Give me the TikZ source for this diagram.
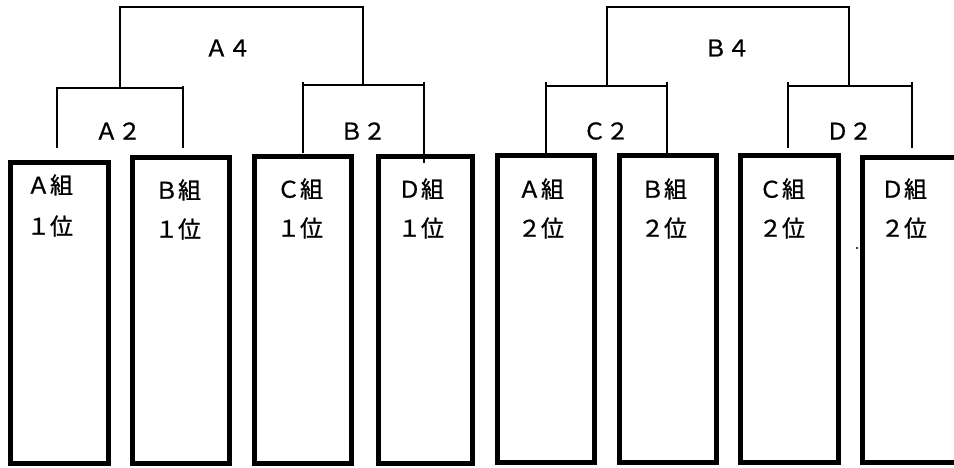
\documentclass[tikz,border=0pt]{standalone}
\usepackage{fontspec}
\setmainfont{Noto Sans CJK JP}
\newfontfamily\heavyjp{Noto Sans CJK JP}[FakeBold=0.9]
\begin{document}
\begin{tikzpicture}[x=1pt,y=-1pt,
  box/.style={draw=black,line width=5pt,fill=white,inner sep=0pt},
  br/.style={draw=black,line width=1.7pt,line cap=butt},
  lab/.style={inner sep=0pt,font=\fontsize{23pt}{27pt}\selectfont\heavyjp},
  txt/.style={inner sep=0pt,font=\fontsize{23pt}{27pt}\selectfont\heavyjp}]
\useasboundingbox (0,0) rectangle (954,468);
% boxes
\node[box,minimum width=98pt,minimum height=301pt] (b1) at (59.5,313) {};
\node[box,minimum width=97pt,minimum height=306pt] (b2) at (181,310.5) {};
\node[box,minimum width=97pt,minimum height=307pt] (b3) at (303,310) {};
\node[box,minimum width=94pt,minimum height=307pt] (b4) at (425.5,310) {};
\node[box,minimum width=97pt,minimum height=307pt] (b5) at (546,309) {};
\node[box,minimum width=97pt,minimum height=307pt] (b6) at (668,309) {};
\node[box,minimum width=98pt,minimum height=307pt] (b7) at (789.5,309) {};
\node[box,minimum width=97pt,minimum height=305pt] (b8) at (911,310) {};
% box texts
\node[txt] (t1a) at (50,185) {Ａ組};
\node[txt] (t1b) at (50,226) {１位};
\node[txt] (t2a) at (178,190) {Ｂ組};
\node[txt] (t2b) at (178,229) {１位};
\node[txt] (t3a) at (300,189) {Ｃ組};
\node[txt] (t3b) at (300,228) {１位};
\node[txt] (t4a) at (421,189) {Ｄ組};
\node[txt] (t4b) at (421,228) {１位};
\node[txt] (t5a) at (541,189) {Ａ組};
\node[txt] (t5b) at (541,228) {２位};
\node[txt] (t6a) at (664,189) {Ｂ組};
\node[txt] (t6b) at (664,228) {２位};
\node[txt] (t7a) at (782,189) {Ｃ組};
\node[txt] (t7b) at (782,228) {２位};
\node[txt] (t8a) at (904,189) {Ｄ組};
\node[txt] (t8b) at (904,228) {２位};
% bracket labels
\node[lab] (la4) at (228,48) {Ａ４};
\node[lab] (la2) at (118,131) {Ａ２};
\node[lab] (lb2) at (363,131) {Ｂ２};
\node[lab] (lb4) at (727,48) {Ｂ４};
\node[lab] (lc2) at (606,131) {Ｃ２};
\node[lab] (ld2) at (849,131) {Ｄ２};
% bracket coordinates
\coordinate (a2lb) at (57,148);  \coordinate (a2lt) at (57,88);
\coordinate (a2rb) at (183,148); \coordinate (a2rt) at (183,86);
\coordinate (a2m) at (120,88);
\coordinate (b2lb) at (303,153); \coordinate (b2lt) at (303,82);
\coordinate (b2rb) at (424,163); \coordinate (b2rt) at (424,82);
\coordinate (b2m) at (363,85);
\coordinate (a4tl) at (120,7); \coordinate (a4tr) at (363,7);
\coordinate (c2lb) at (546,153); \coordinate (c2lt) at (546,82);
\coordinate (c2rb) at (667,153); \coordinate (c2rt) at (667,82);
\coordinate (c2m) at (607,86);
\coordinate (d2lb) at (788,148); \coordinate (d2lt) at (788,82);
\coordinate (d2rb) at (912,148); \coordinate (d2rt) at (912,82);
\coordinate (d2m) at (849,86);
\coordinate (b4tl) at (607,7); \coordinate (b4tr) at (849,7);
% brackets
\draw[br] (a2lb) -- (a2lt) -- (a2lt -| a2rb);
\draw[br] (a2rt) -- (a2rb);
\draw[br] (b2lt) -- (b2lb);
\draw[br] (b2rt) -- (b2rb);
\draw[br] (b2lt |- b2m) -- (b2rt |- b2m);
\draw[br] (a2m) -- (a4tl) -- (a4tr) -- (b2m);
\draw[br] (c2lt) -- (c2lb);
\draw[br] (c2rt) -- (c2rb);
\draw[br] (c2lt |- c2m) -- (c2rt |- c2m);
\draw[br] (d2lt) -- (d2lb);
\draw[br] (d2rt) -- (d2rb);
\draw[br] (d2lt |- d2m) -- (d2rt |- d2m);
\draw[br] (c2m) -- (b4tl) -- (b4tr) -- (d2m);
% stray dot
\fill (857,248) circle (1.2pt);
\end{tikzpicture}
\end{document}
